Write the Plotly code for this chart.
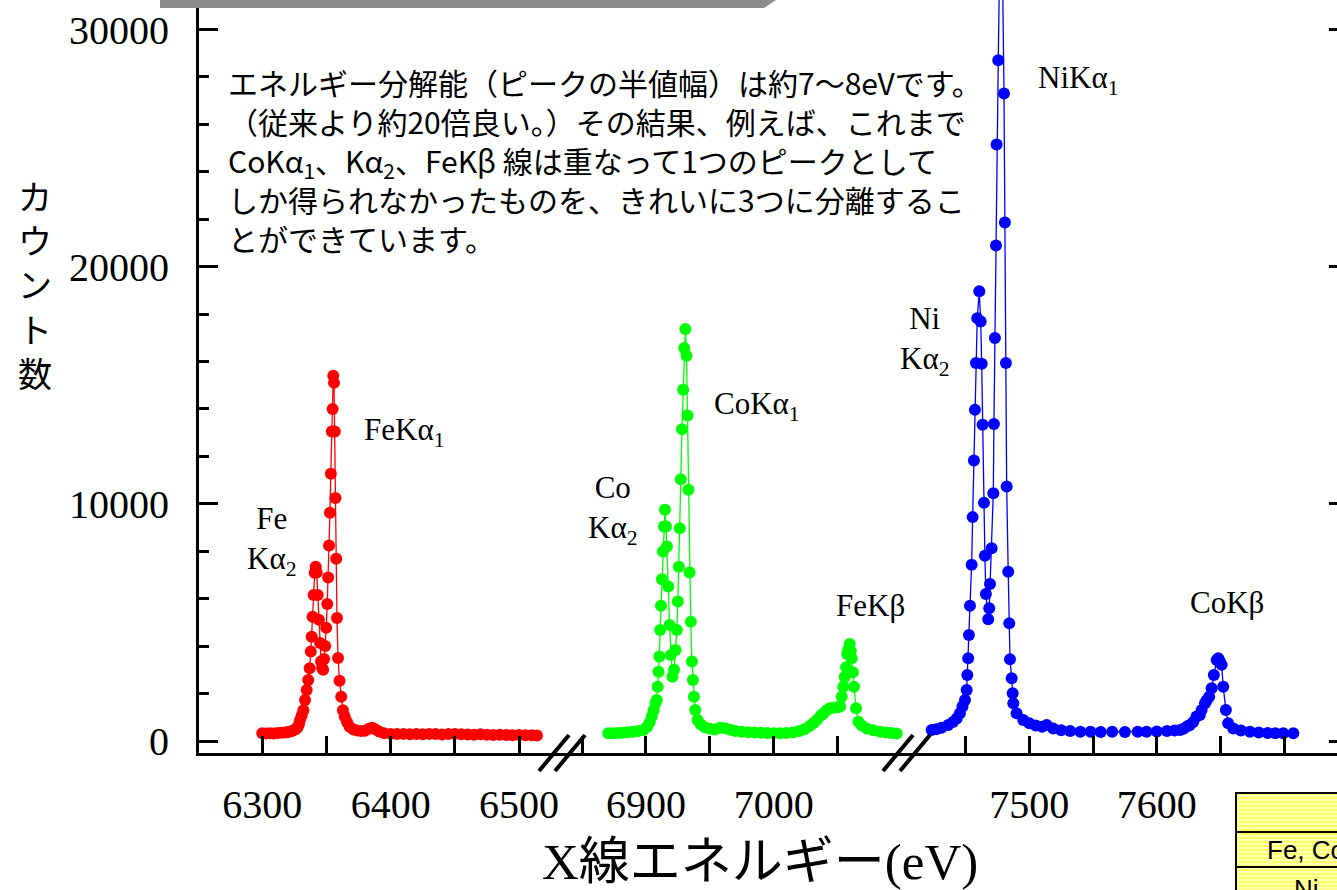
import plotly.graph_objects as go

# ---------------- data ----------------
fe_energy = [6300, 6303, 6306, 6309, 6312, 6315, 6318, 6320, 6322, 6324, 6326, 6327.5, 6328.5,
             6329.4, 6330.7, 6332.0, 6333.3, 6334.6, 6335.8, 6336.9, 6337.8, 6338.5, 6339.2, 6340.0,
             6340.8, 6341.6, 6342.4, 6343.2, 6344.1, 6345.0, 6345.8, 6346.6, 6347.4, 6348.2, 6349.0,
             6349.8, 6350.6, 6351.3, 6352.0, 6352.7, 6353.4, 6354.2, 6354.8, 6355.3, 6355.9, 6356.5,
             6357.0, 6357.6, 6358.2, 6359.0, 6360.2, 6361.5, 6362.8, 6364.2, 6366, 6368, 6371, 6374,
             6377, 6380, 6383, 6385.5, 6388, 6391, 6395, 6400, 6405, 6410, 6415, 6420, 6425, 6430,
             6435, 6440, 6445, 6450, 6455, 6460, 6465, 6470, 6475, 6480, 6485, 6490, 6495, 6500,
             6505, 6510, 6514]
fe_counts = [330, 320, 330, 320, 340, 350, 360, 380, 400, 440, 500, 580, 700,
             890, 1080, 1300, 1730, 2150, 2570, 3070, 3770, 4400, 5240, 6160,
             7090, 7350, 7100, 6160, 5110, 4130, 3350, 3080, 3000, 3460, 4010,
             4770, 5780, 6890, 8240, 9620, 11270, 13050, 14000, 15400, 15100, 13050,
             10250, 7680, 5190, 3500, 2540, 1870, 1300, 1030, 800, 600, 480, 440,
             420, 430, 520, 560, 500, 400, 330, 300, 290, 300, 280, 290, 280, 300,
             290, 270, 290, 300, 280, 270, 260, 280, 260, 250, 260, 250, 240, 250,
             240, 240, 230]

co_energy = [6870.5, 6874, 6878, 6882, 6886, 6890, 6894, 6898, 6901, 6903, 6904.6, 6906, 6907.5,
             6908.5, 6909.2, 6909.9, 6910.5, 6911.1, 6911.8, 6912.5, 6913.3, 6914.1, 6914.9, 6915.7,
             6916.4, 6917.5, 6918.5, 6919.5, 6920.7, 6922.0, 6923.2, 6924.2, 6925.0, 6925.8, 6926.5,
             6927.3, 6928.2, 6929.1, 6930.0, 6930.9, 6931.8, 6932.6, 6933.3, 6934.2, 6935.1, 6936.0,
             6936.8, 6937.6, 6938.6, 6940.5, 6943, 6946, 6950, 6954, 6958, 6962, 6966, 6970, 6975,
             6980, 6985, 6990, 6995, 7000, 7005, 7010, 7015, 7020, 7024, 7028, 7031, 7034, 7037,
             7039, 7041.5, 7044, 7047, 7050, 7052, 7053.3, 7054.5, 7055.6, 7056.7, 7057.6, 7058.5,
             7059.5, 7060.4, 7061.1, 7062.0, 7062.9, 7064.5, 7066.3, 7069, 7072.9, 7078, 7083.3,
             7088, 7092, 7096.3]
co_counts = [330, 330, 340, 350, 370, 390, 420, 460, 600, 800, 1030, 1300, 1600,
             1730, 2290, 2920, 3560, 4680, 5700, 6820, 7990, 9040, 9750, 9040,
             8200, 6510, 4890, 3630, 2710, 3000, 3840, 4680, 5880, 7350, 8970,
             11040, 13150, 14810, 16570, 17370, 16240, 13720, 10590, 7100, 5030, 3350,
             2570, 1870, 1310, 890, 700, 580, 520, 480, 560, 540, 470, 420, 390,
             370, 360, 350, 340, 330, 330, 340, 360, 420, 500, 620, 750, 900, 1080,
             1170, 1300, 1380, 1400, 1420, 1450, 1870, 2290, 2700, 3110, 3670, 3860,
             4090, 3800, 3490, 2900, 2290, 1380, 810, 650, 530, 450, 390,
             360, 340, 320]

ni_energy = [7423.3, 7427, 7431, 7436.3, 7440, 7443, 7445.5, 7447.5, 7449.5, 7450.8, 7451.3, 7452.0,
             7452.6, 7453.4, 7454.7, 7455.5, 7456.5, 7457.3, 7458.1, 7459.1, 7460.7, 7461.8, 7462.6,
             7463.3, 7464.4, 7465.1, 7465.9, 7467.7, 7468.5, 7469.1, 7470.4, 7471.7, 7472.2, 7473.0,
             7473.8, 7474.3, 7475.6, 7477.2, 7478.6, 7480.1, 7480.8, 7481.6, 7482.2, 7483.4, 7484.2,
             7484.8, 7486.1, 7486.9, 7487.4, 7490.0, 7495.2, 7500, 7505, 7510, 7513.6, 7518.7, 7525,
             7532, 7540, 7548, 7556, 7565, 7575, 7585, 7592, 7600, 7608, 7614, 7618.2, 7621, 7624,
             7626, 7628.6, 7631.2, 7633.8, 7635.2, 7637.8, 7639.1, 7641.1, 7643.0, 7644.8, 7647.0,
             7648.2, 7649.5, 7650.9, 7652.1, 7654.2, 7656.0, 7660.0, 7666, 7673.1, 7680, 7687,
             7693, 7699.2, 7707.1]
ni_counts = [460, 500, 560, 675, 800, 950, 1170, 1450, 1730, 2150, 2780, 3490,
             4470, 5700, 7430, 9440, 11830, 13970, 15940, 17830, 18960, 17690, 15910,
             13330, 10050, 7810, 6200, 5130, 5600, 6620, 8130, 10450, 13370, 16990,
             20890, 25150, 28700, 35000, 34000, 27300, 21860, 15940, 10730, 7140, 4960,
             3450, 2650, 2010, 1590, 1170, 890, 750, 650, 600, 675, 530, 450,
             420, 390, 390, 380, 390, 380, 390, 390, 400, 420, 440, 460, 520, 620,
             675, 800, 1030, 1100, 1310, 1590, 1720, 1870, 2220, 2780, 3420,
             3490, 3350, 3210, 2290, 1310, 750, 530, 440, 390, 360, 340,
             330, 325, 325]

fe_ticks, fe_minor = [6300, 6400, 6500], [6350, 6450]
co_ticks, co_minor = [6900, 7000], [6850, 6950, 7050]
ni_ticks, ni_minor = [7500, 7600], [7450, 7550, 7650, 7700]

peak_labels = [
    ("FeKα<sub>1</sub>", 404, 432),
    ("Fe<br>Kα<sub>2</sub>", 271, 541),
    ("CoKα<sub>1</sub>", 757, 406),
    ("Co<br>Kα<sub>2</sub>", 612, 510),
    ("FeKβ", 870, 605),
    ("Ni<br>Kα<sub>2</sub>", 925, 341),
    ("NiKα<sub>1</sub>", 1078, 80),
    ("CoKβ", 1227, 602),
]

note_text = ("エネルギー分解能（ピークの半値幅）は約7～8eVです。<br>"
             "（従来より約20倍良い。）その結果、例えば、これまで<br>"
             "CoKα<sub>1</sub>、Kα<sub>2</sub>、FeKβ 線は重なって1つのピークとして<br>"
             "しか得られなかったものを、きれいに3つに分離するこ<br>"
             "とができています。")
y_title = "カ<br>ウ<br>ン<br>ト<br>数"
x_title = "X線エネルギー(eV)"
table_texts = ["Fe, Co", "Ni"]

# ---------------- geometry helpers (pixels -> paper) ----------------
L, R, T, B = 199, 1337, 0, 753


def px(x):
    return (x - L) / (R - L)


def py(y):
    return (B - y) / (B - T)


SERIF = "Liberation Serif, Times New Roman, serif"
JP = "Noto Sans CJK JP, sans-serif"
SANS = "Liberation Sans, Arial, sans-serif"

fig = go.Figure()
for xs, ys, col, xa, ya in [(fe_energy, fe_counts, "#ff0000", "x", "y"),
                            (co_energy, co_counts, "#00ff00", "x2", "y2"),
                            (ni_energy, ni_counts, "#0000ff", "x3", "y3")]:
    fig.add_trace(go.Scatter(x=xs, y=ys, xaxis=xa, yaxis=ya, mode="lines+markers",
                             line=dict(color=col, width=1.3),
                             marker=dict(color=col, size=12, line=dict(width=0)),
                             showlegend=False, hoverinfo="x+y"))

d1, d2 = px(562), px(906)


def xaxis_cfg(domain, rng, ticks, minor, anchor):
    return dict(domain=domain, range=rng, anchor=anchor, showline=True, linecolor="black",
                linewidth=3, ticks="inside", ticklen=17, tickwidth=3, tickcolor="black",
                tickmode="array", tickvals=ticks, ticktext=[str(t) for t in ticks],
                minor=dict(tickmode="array", tickvals=minor, ticks="inside", ticklen=17,
                           tickwidth=3, tickcolor="black", showgrid=False),
                showgrid=False, zeroline=False, ticklabelstandoff=14,
                tickfont=dict(family=SERIF, size=40, color="black"))


yr = [-506, 31244]
fig.update_layout(
    width=1337, height=890,
    margin=dict(l=L, r=1337 - R, t=T, b=890 - B, pad=0),
    paper_bgcolor="white", plot_bgcolor="white", showlegend=False,
    xaxis=xaxis_cfg([0, d1], [6250.7, 6533.5], fe_ticks, fe_minor, "y"),
    xaxis2=xaxis_cfg([d1, d2], [6834.3, 7103.6], co_ticks, co_minor, "y2"),
    xaxis3=xaxis_cfg([d2, 1], [7403.2, 7741.4], ni_ticks, ni_minor, "y3"),
    yaxis=dict(domain=[0, 1], range=yr, anchor="x", showline=True, linecolor="black",
               linewidth=3, ticks="inside", ticklen=19, tickwidth=3, tickcolor="black",
               tickmode="linear", tick0=0, dtick=10000, tickformat="d",
               minor=dict(dtick=2000, tick0=0, ticks="inside", ticklen=10, tickwidth=3,
                          tickcolor="black", showgrid=False),
               showgrid=False, zeroline=False, ticklabelstandoff=19,
               tickfont=dict(family=SERIF, size=40, color="black")),
    yaxis2=dict(domain=[0, 1], range=yr, anchor="x2", matches="y", visible=False),
    yaxis3=dict(domain=[0, 1], range=yr, anchor="x3", matches="y", side="right",
                showline=False, ticks="inside", ticklen=8, tickwidth=3, tickcolor="black",
                tickmode="linear", tick0=0, dtick=10000, showticklabels=False,
                showgrid=False, zeroline=False),
)

shapes = []
# grey banner at the top
shapes.append(dict(type="path", xref="paper", yref="paper",
                   path=f"M {px(160)},{py(0)} L {px(776)},{py(0)} L {px(764)},{py(8)} L {px(160)},{py(8)} Z",
                   fillcolor="#8c8c8c", line=dict(width=0), layer="above"))
# axis break marks
for cx in (554, 570, 898, 915):
    shapes.append(dict(type="line", xref="paper", yref="paper",
                       x0=px(cx - 15), y0=py(753 + 18), x1=px(cx + 15), y1=py(753 - 18),
                       line=dict(color="black", width=4), layer="above"))
# table fragment at bottom right (striped yellow cells)
shapes.append(dict(type="rect", xref="paper", yref="paper",
                   x0=px(1236), y0=py(793), x1=px(1345), y1=py(900),
                   fillcolor="#ffff66", line=dict(width=0), layer="above"))
for ys in range(796, 892, 4):
    shapes.append(dict(type="line", xref="paper", yref="paper",
                       x0=px(1236), y0=py(ys), x1=px(1345), y1=py(ys),
                       line=dict(color="#ffffd0", width=1.5), layer="above"))
shapes.append(dict(type="rect", xref="paper", yref="paper",
                   x0=px(1236), y0=py(793), x1=px(1345), y1=py(900),
                   fillcolor="rgba(0,0,0,0)", line=dict(color="black", width=2), layer="above"))
for yl in (832, 867):
    shapes.append(dict(type="line", xref="paper", yref="paper",
                       x0=px(1236), y0=py(yl), x1=px(1345), y1=py(yl),
                       line=dict(color="black", width=2), layer="above"))
fig.update_layout(shapes=shapes)

ann = []
for text, xx, yy in peak_labels:
    ann.append(dict(text=text, x=px(xx), y=py(yy), xref="paper", yref="paper",
                    showarrow=False, xanchor="center", yanchor="middle", align="center",
                    font=dict(family=SERIF, size=31, color="black")))
ann.append(dict(text=note_text, x=px(226), y=py(160), xref="paper", yref="paper",
                showarrow=False, xanchor="left", yanchor="middle", align="left",
                font=dict(family=JP, size=30, color="black")))
ann.append(dict(text=y_title, x=px(35), y=py(284), xref="paper", yref="paper",
                showarrow=False, xanchor="center", yanchor="middle", align="center",
                font=dict(family=JP, size=34, color="black")))
ann.append(dict(text=x_title, x=px(760), y=py(862), xref="paper", yref="paper",
                showarrow=False, xanchor="center", yanchor="middle",
                font=dict(family="Liberation Serif, Noto Sans CJK JP, serif", size=51, color="black")))
ann.append(dict(text=table_texts[0], x=px(1265), y=py(850), xref="paper", yref="paper",
                showarrow=False, xanchor="left", yanchor="middle",
                font=dict(family=SANS, size=26, color="black")))
ann.append(dict(text=table_texts[1], x=px(1306), y=py(889), xref="paper", yref="paper",
                showarrow=False, xanchor="center", yanchor="middle",
                font=dict(family=SANS, size=26, color="black")))
fig.update_layout(annotations=ann)

fig.write_html("out.html", config={"displayModeBar": False},
               post_script="document.body.style.margin='0';document.body.style.overflow='hidden';")
